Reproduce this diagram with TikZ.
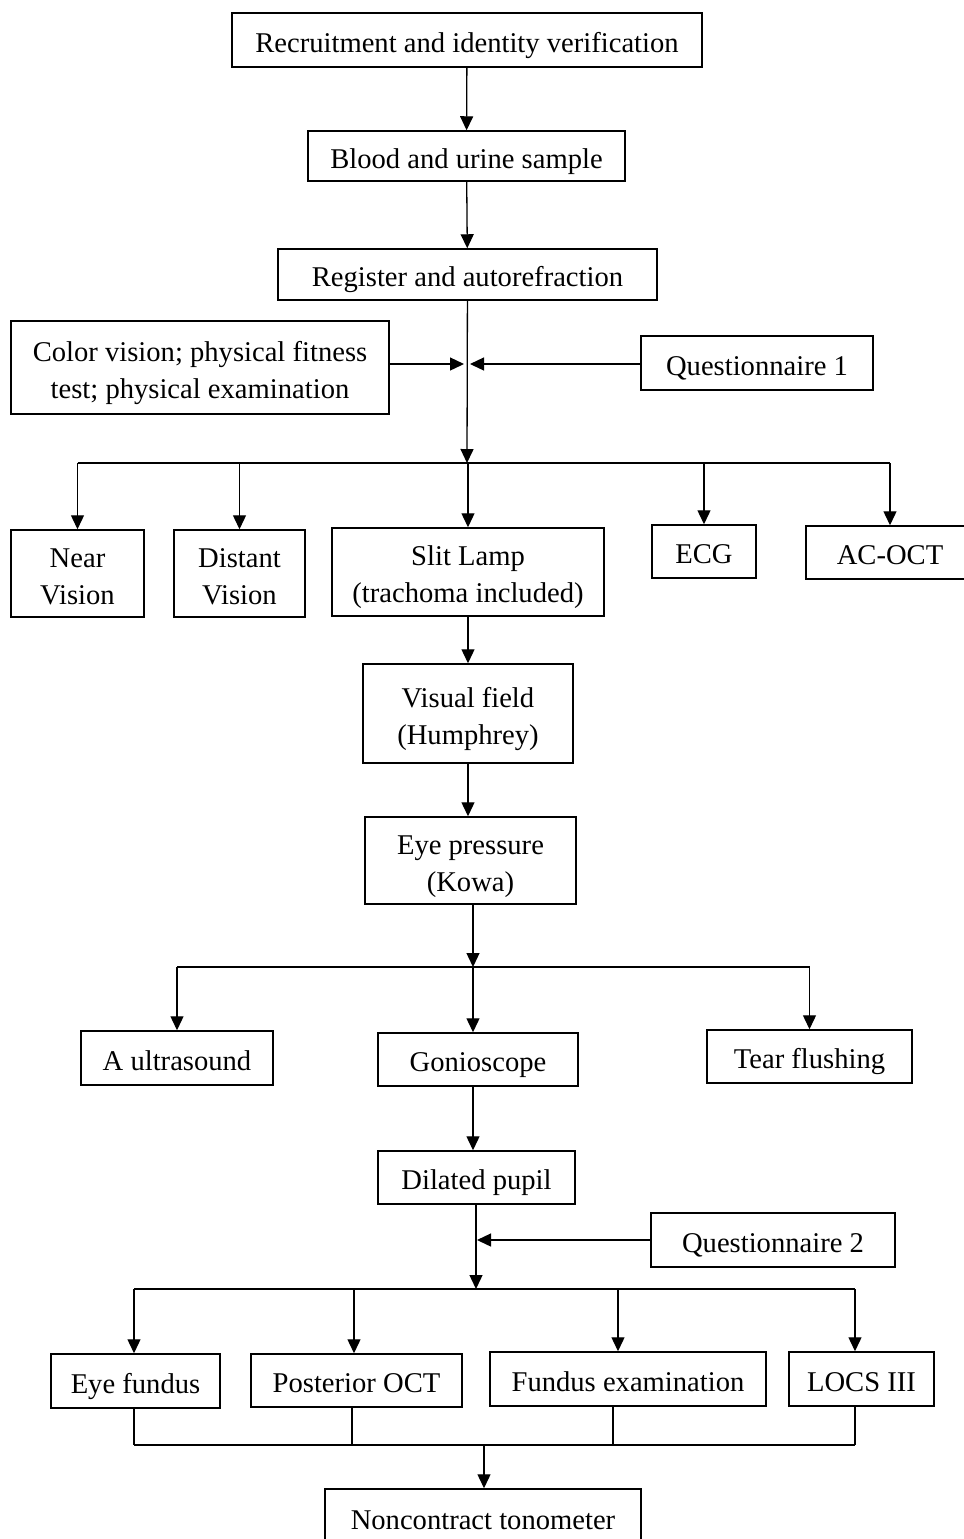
\documentclass[tikz,border=0pt]{standalone}
\usepackage{fontspec}
\setmainfont{Liberation Serif}
\usetikzlibrary{arrows.meta,positioning}

\begin{document}
\begin{tikzpicture}[x=0.5pt,y=-0.5pt,->,>={Triangle[width=6.5pt,length=7pt]},
                line width=0.65pt]
        \tikzstyle{box}=[draw,line width=0.75pt,align=center,inner sep=0pt,
                font=\fontsize{14.3}{18.5}\selectfont]
        \tikzstyle{oneline}=[box,text height=13pt,text depth=1pt]
        \tikzstyle{twoline}=[box,text height=32pt,text depth=1.5pt]
        \useasboundingbox (0,0) rectangle (964,1539);

        % main column, top
        \node[oneline,minimum width=235pt,minimum height=27pt]   (recruit)  at (467,40)      {Recruitment and identity verification};
        \node[oneline,minimum width=158.5pt,minimum height=25pt] (blood)    at (466.5,156)   {Blood and urine sample};
        \node[oneline,minimum width=189.5pt,minimum height=25.5pt] (register) at (467.5,274.5) {Register and autorefraction};
        \node[twoline,minimum width=189pt,minimum height=46.5pt] (colour)   at (200,367.5)   {Color vision; physical fitness\\test; physical examination};
        \node[oneline,minimum width=116pt,minimum height=27pt]   (quest1)   at (757,363)     {Questionnaire 1};

        % first row
        \node[twoline,minimum width=66.5pt,minimum height=43.5pt] (near)    at (77.5,573.5)  {Near\\Vision};
        \node[twoline,minimum width=65.5pt,minimum height=43.5pt] (distant) at (239.5,573.5) {Distant\\Vision};
        \node[twoline,minimum width=136pt,minimum height=44pt]    (slit)    at (468,572)     {Slit Lamp\\(trachoma included)};
        \node[oneline,minimum width=52pt,minimum height=26.5pt]   (ecg)     at (704,551.5)   {ECG};
        \node[oneline,minimum width=84pt,minimum height=26.5pt]   (acoct)   at (890,552.5)   {AC-OCT};

        \node[twoline,minimum width=105pt,minimum height=49.5pt]  (visual)   at (468,713.5)   {Visual field\\(Humphrey)};
        \node[twoline,minimum width=105.5pt,minimum height=43.5pt] (pressure) at (470.5,860.5) {Eye pressure\\(Kowa)};

        % second row
        \node[oneline,minimum width=96pt,minimum height=27pt]     (ultra)   at (177,1058)    {A ultrasound};
        \node[oneline,minimum width=100pt,minimum height=26.5pt]  (gonio)   at (478,1059.5)  {Gonioscope};
        \node[oneline,minimum width=102.5pt,minimum height=26.5pt] (tear)   at (809.5,1056.5) {Tear flushing};

        \node[oneline,minimum width=98.5pt,minimum height=26.5pt] (dilated) at (476.5,1177.5) {Dilated pupil};
        \node[oneline,minimum width=122pt,minimum height=27pt]    (quest2)  at (773,1240)    {Questionnaire 2};

        % third row
        \node[oneline,minimum width=84.5pt,minimum height=27pt]   (fundus)   at (135.5,1381)  {Eye fundus};
        \node[oneline,minimum width=105.5pt,minimum height=26.5pt] (postoct) at (356.5,1380.5) {Posterior OCT};
        \node[oneline,minimum width=138pt,minimum height=27pt]    (fundexam) at (628,1379)    {Fundus examination};
        \node[oneline,minimum width=72.5pt,minimum height=27pt]   (locs)     at (861.5,1379)  {LOCS III};

        \node[oneline,minimum width=158pt,minimum height=28pt]    (tono)     at (483,1517)    {Noncontract tonometer};

        % junctions
        \coordinate (merge1) at (467,364);
        \coordinate (split1) at (467,463);
        \coordinate (split2) at (473,967);
        \coordinate (split3) at (476,1289);
        \coordinate (join)   at (484,1445);

        \draw (recruit) -- (blood);
        \draw (blood) -- (register);
        \draw (register) -- (split1);
        \draw[shorten >=1.5pt] (colour.east |- merge1) -- (merge1);
        \draw[shorten >=1.5pt] (quest1.west |- merge1) -- (merge1);

        \draw[-] (near.north |- split1) -- (acoct.north |- split1);
        \foreach \n in {near,distant,slit,ecg,acoct}
            \draw (\n.north |- split1) -- (\n.north);

        \draw (slit) -- (visual);
        \draw (visual.south) -- (visual.south |- pressure.north);
        \draw (pressure.south -| split2) -- (split2);

        \draw[-] (ultra.north |- split2) -- (tear.north |- split2);
        \draw (ultra.north |- split2) -- (ultra.north);
        \draw (split2) -- (gonio.north -| split2);
        \draw (tear.north |- split2) -- (tear.north);

        \draw (gonio.south -| split2) -- (dilated.north -| split2);
        \draw (dilated.south -| split3) -- (split3);
        \draw[shorten >=0.5pt] (quest2.west) -- (quest2.west -| split3);

        \draw[-] (split3 -| 134,0) -- (split3 -| 855,0);
        \foreach \n/\x in {fundus/134,postoct/354,fundexam/618,locs/855}
            \draw (split3 -| \x,0) -- (\n.north -| \x,0);

        \draw[-] (join -| 134,0) -- (join -| 855,0);
        \foreach \n/\x in {fundus/134,postoct/352,fundexam/613,locs/855}
            \draw[-] (\n.south -| \x,0) -- (join -| \x,0);
        \draw (join) -- (tono.north -| join);
\end{tikzpicture}
\end{document}
